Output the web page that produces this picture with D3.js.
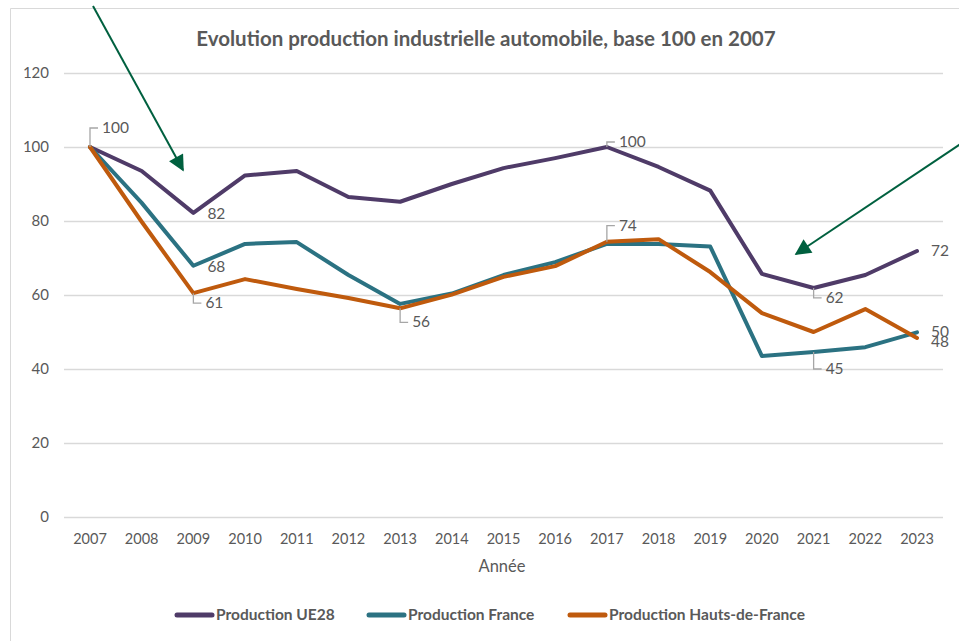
<!DOCTYPE html>
<html>
<head>
<meta charset="utf-8">
<script src="https://cdn.jsdelivr.net/npm/d3@7.9.0/dist/d3.min.js"></script>
<style>
  body { margin: 0; background: #fff; }
  svg { font-family: Lato, "Open Sans", sans-serif; }
</style>
</head>
<body>
<svg id="chart" width="959" height="641"></svg>
<script>
// Data
const years = [2007, 2008, 2009, 2010, 2011, 2012, 2013, 2014, 2015, 2016, 2017, 2018, 2019, 2020, 2021, 2022, 2023];
const ue28 = [100, 93.5, 82.2, 92.3, 93.5, 86.5, 85.2, 90, 94.3, 97, 100, 94.6, 88.2, 65.7, 61.9, 65.4, 71.9];
const france = [100, 84.9, 67.9, 73.8, 74.3, 65.4, 57.6, 60.4, 65.4, 68.9, 73.8, 73.8, 73.1, 43.5, 44.6, 45.9, 49.9];
const hdf = [100, 79.8, 60.5, 64.3, 61.6, 59.2, 56.4, 60.1, 64.9, 67.8, 74.4, 75.1, 66.2, 55.1, 50, 56.2, 48.4];
const yTicks = [0, 20, 40, 60, 80, 100, 120];
const seriesNames = ["Production UE28", "Production France", "Production Hauts-de-France"];
const colors = ["#4f3b68", "#2b7282", "#bf5a0d"];

// data labels: which series and year get a value label, and how it is placed
const labels = [
  { s: 0, year: 2007, dx: 10, dy: -19, leader: true },
  { s: 0, year: 2009, dx: 14, dy: 1, leader: false },
  { s: 1, year: 2009, dx: 14, dy: 1, leader: false },
  { s: 2, year: 2009, dx: 10, dy: 10, leader: true },
  { s: 2, year: 2013, dx: 10, dy: 14, leader: true },
  { s: 0, year: 2017, dx: 10, dy: -5, leader: true },
  { s: 2, year: 2017, dx: 10, dy: -16, leader: true },
  { s: 0, year: 2021, dx: 10, dy: 10, leader: true },
  { s: 1, year: 2021, dx: 10, dy: 17, leader: true },
  { s: 0, year: 2023, dx: 14, dy: 0, leader: false },
  { s: 1, year: 2023, dx: 14, dy: 0, leader: false },
  { s: 2, year: 2023, dx: 14, dy: 4, leader: false }
];

const svg = d3.select("#chart");
const series = [ue28, france, hdf];

// outer frame of the chart area
svg.append("path")
  .attr("d", "M10.5,641 V8.5 H959")
  .attr("fill", "none")
  .attr("stroke", "#d9d9d9")
  .attr("stroke-width", 1);

const x = d3.scalePoint().domain(years).range([90, 917]);
const y = d3.scaleLinear().domain([0, 120]).range([517, 73]);

// gridlines
svg.append("g")
  .selectAll("line")
  .data(yTicks)
  .join("line")
  .attr("x1", 64).attr("x2", 943)
  .attr("y1", d => y(d) + 0.5).attr("y2", d => y(d) + 0.5)
  .attr("stroke", "#d9d9d9")
  .attr("stroke-width", 1.3);

// y axis labels
svg.append("g")
  .selectAll("text")
  .data(yTicks)
  .join("text")
  .attr("x", 49)
  .attr("y", d => y(d) + 5)
  .attr("text-anchor", "end")
  .attr("font-size", 15)
  .attr("fill", "#595959")
  .text(d => d);

// x axis labels
svg.append("g")
  .selectAll("text")
  .data(years)
  .join("text")
  .attr("x", d => x(d))
  .attr("y", 544)
  .attr("text-anchor", "middle")
  .attr("font-size", 14.5)
  .attr("fill", "#595959")
  .text(d => d);

svg.append("text")
  .attr("x", 502).attr("y", 572)
  .attr("text-anchor", "middle")
  .attr("font-size", 16.5)
  .attr("fill", "#595959")
  .text("Année");

// title
svg.append("text")
  .attr("x", 486).attr("y", 46)
  .attr("text-anchor", "middle")
  .attr("font-size", 20.5)
  .attr("font-weight", "bold")
  .attr("fill", "#595959")
  .text("Evolution production industrielle automobile, base 100 en 2007");

// lines
const line = d3.line()
  .x((d, i) => x(years[i]))
  .y(d => y(d));

svg.append("g")
  .selectAll("path")
  .data(series)
  .join("path")
  .attr("d", d => line(d))
  .attr("fill", "none")
  .attr("stroke", (d, i) => colors[i])
  .attr("stroke-width", 4)
  .attr("stroke-linejoin", "round")
  .attr("stroke-linecap", "round");

// data labels with leader lines
const lab = svg.append("g");
labels.forEach(l => {
  const v = series[l.s][years.indexOf(l.year)];
  const px = x(l.year), py = y(v);
  if (l.leader) {
    const ly = py + l.dy;
    lab.append("path")
      .attr("d", `M${px},${py} V${ly} H${px + l.dx - 2}`)
      .attr("fill", "none")
      .attr("stroke", "#a6a6a6")
      .attr("stroke-width", 1.3);
    lab.append("text")
      .attr("x", px + l.dx + 2)
      .attr("y", ly + 5)
      .attr("font-size", 15.5)
      .attr("fill", "#595959")
      .text(Math.round(v));
  } else {
    lab.append("text")
      .attr("x", px + l.dx)
      .attr("y", py + l.dy + 5)
      .attr("font-size", 15.5)
      .attr("fill", "#595959")
      .text(Math.round(v));
  }
});

// legend
const legendX = [175, 367, 568];
const legend = svg.append("g");
seriesNames.forEach((name, i) => {
  legend.append("line")
    .attr("x1", legendX[i] + 2).attr("x2", legendX[i] + 37)
    .attr("y1", 615).attr("y2", 615)
    .attr("stroke", colors[i])
    .attr("stroke-width", 5)
    .attr("stroke-linecap", "round");
  legend.append("text")
    .attr("x", legendX[i] + 41)
    .attr("y", 620)
    .attr("font-size", 15.5)
    .attr("font-weight", "bold")
    .attr("fill", "#595959")
    .text(name);
});

// green arrows drawn over the chart
const defs = svg.append("defs");
defs.append("marker")
  .attr("id", "head")
  .attr("viewBox", "0 0 10 10")
  .attr("refX", 9).attr("refY", 5)
  .attr("markerWidth", 9).attr("markerHeight", 8)
  .attr("orient", "auto")
  .attr("markerUnits", "strokeWidth")
  .append("path")
  .attr("d", "M0,0 L10,5 L0,10 z")
  .attr("fill", "#00603f");

const arrows = [[[93, 6], [183, 170]], [[962, 143], [796, 254]]];
svg.append("g")
  .selectAll("line")
  .data(arrows)
  .join("line")
  .attr("x1", d => d[0][0]).attr("y1", d => d[0][1])
  .attr("x2", d => d[1][0]).attr("y2", d => d[1][1])
  .attr("stroke", "#00603f")
  .attr("stroke-width", 2)
  .attr("marker-end", "url(#head)");
</script>
</body>
</html>
